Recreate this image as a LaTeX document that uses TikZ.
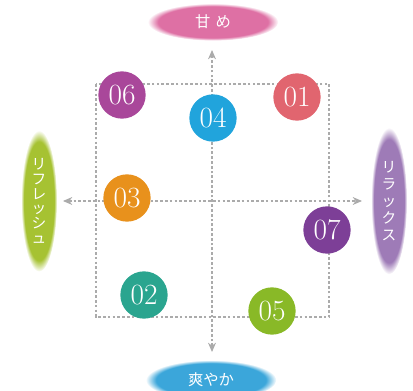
\documentclass[tikz,border=0pt]{standalone}
\usepackage{fontspec}
\newfontfamily\jpfont{Noto Sans CJK JP}
\usetikzlibrary{arrows.meta,shapes.geometric,positioning,backgrounds}

\definecolor{sweetpink}{HTML}{DE70A4}
\definecolor{freshblue}{HTML}{3BA6DA}
\definecolor{refreshgreen}{HTML}{A6C232}
\definecolor{relaxpurple}{HTML}{9E7BB7}
\definecolor{gridgray}{HTML}{ABABAB}
\definecolor{cOne}{HTML}{E1656F}
\definecolor{cTwo}{HTML}{2AA58F}
\definecolor{cThree}{HTML}{E8911C}
\definecolor{cFour}{HTML}{21A4DC}
\definecolor{cFive}{HTML}{89B927}
\definecolor{cSix}{HTML}{A9479A}
\definecolor{cSeven}{HTML}{7D3F97}

\pgfdeclareradialshading{sweetglow}{\pgfpoint{0bp}{0bp}}{color(0bp)=(sweetpink); color(21bp)=(sweetpink); color(25bp)=(white); color(50bp)=(white)}
\pgfdeclareradialshading{freshglow}{\pgfpoint{0bp}{0bp}}{color(0bp)=(freshblue); color(21bp)=(freshblue); color(25bp)=(white); color(50bp)=(white)}
\pgfdeclareradialshading{refreshglow}{\pgfpoint{0bp}{0bp}}{color(0bp)=(refreshgreen); color(21bp)=(refreshgreen); color(25bp)=(white); color(50bp)=(white)}
\pgfdeclareradialshading{relaxglow}{\pgfpoint{0bp}{0bp}}{color(0bp)=(relaxpurple); color(21bp)=(relaxpurple); color(25bp)=(white); color(50bp)=(white)}

\begin{document}
\begin{tikzpicture}[x=0.75pt, y=-0.75pt,
taste/.style = {ellipse, inner sep=0pt, text=white, font=\jpfont\fontsize{11.5}{11.5}\selectfont},
flat/.style = {taste, minimum width=98pt, minimum height=28pt},
tall/.style = {taste, minimum width=27pt, minimum height=106pt, align=center,
               font=\jpfont\fontsize{11}{11}\selectfont},
num/.style = {circle, inner sep=0pt, minimum size=35.5pt, text=white,
              font=\fontsize{22}{22}\selectfont},
grid/.style = {draw=gridgray, line width=0.8pt, dash pattern=on 2pt off 1.6pt},
axis/.style = {grid, {Stealth[length=7pt,width=6pt]}-{Stealth[length=7pt,width=6pt]}}]

\useasboundingbox (0,0) rectangle (413,391);

\node [flat, shading=sweetglow] (sweet) at (213,22) {甘\,\,め};
\node [flat, shading=freshglow, minimum height=30pt] (fresh) at (211,380) {爽やか};
\node [tall, shading=refreshglow] (refresh) at (39,201) {リ\\フ\\レ\\ッ\\シ\\ュ};
\node [tall, shading=relaxglow, minimum height=110pt,
       font=\jpfont\fontsize{11}{12.8}\selectfont] (relax) at (389,201) {リ\\ラ\\ッ\\ク\\ス};

\node [num, fill=cSix] (n06) at (122,95) {06};
\node [num, fill=cFour] (n04) at (213,118) {04};
\node [num, fill=cOne] (n01) at (297,97) {01};
\node [num, fill=cThree] (n03) at (127,198) {03};
\node [num, fill=cSeven] (n07) at (327,230) {07};
\node [num, fill=cTwo] (n02) at (144,295) {02};
\node [num, fill=cFive] (n05) at (272,311) {05};

\coordinate (upTip) at (212,50);
\coordinate (downTip) at (212,352);
\coordinate (leftTip) at (63,201);
\coordinate (rightTip) at (362,201);

\begin{scope}[on background layer]
\path [grid] (96,84) rectangle (329,317);
\path [axis] (downTip) -- (upTip);
\path [axis] (leftTip) -- (rightTip);
\end{scope}
\end{tikzpicture}
\end{document}
